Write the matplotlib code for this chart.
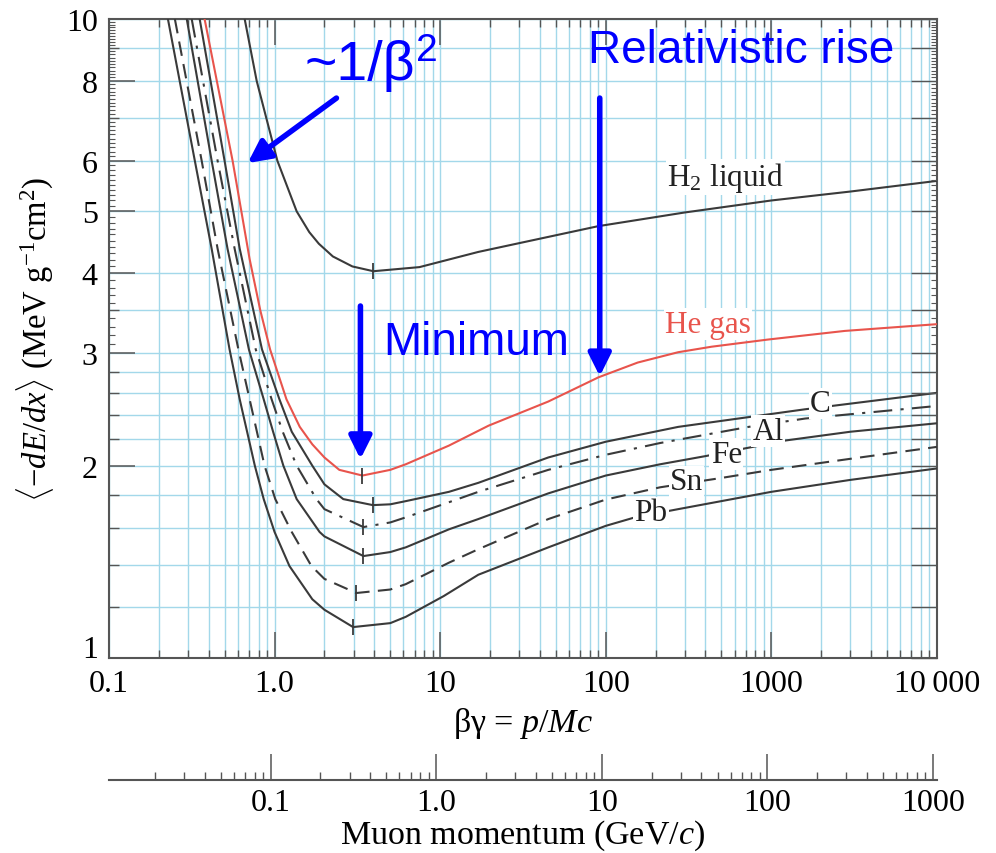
import numpy as np
import matplotlib
matplotlib.use("Agg")
import matplotlib.pyplot as plt
from matplotlib.ticker import FixedLocator, FixedFormatter, NullFormatter, LogLocator

plt.rcParams['font.family'] = ['Liberation Serif', 'DejaVu Serif']
plt.rcParams['mathtext.fontset'] = 'custom'
plt.rcParams['mathtext.rm'] = 'Liberation Serif'
plt.rcParams['mathtext.it'] = 'Liberation Serif:italic'

# ---- data: (beta*gamma, <-dE/dx>)
h2_bg = [0.66, 0.78, 1.04, 1.36, 1.62, 1.85, 2.25, 2.95, 3.95, 7.5, 17, 90, 300, 1000, 3000, 10000]
h2_de = [10.0, 8.0, 6.0, 5.0, 4.64, 4.45, 4.25, 4.10, 4.03, 4.09, 4.32, 4.74, 4.98, 5.2, 5.37, 5.58]

he_bg = [0.378, 0.558, 0.707, 0.82, 0.94, 1.18, 1.42, 1.69, 2.0, 2.46, 3.39, 5.0, 6.2, 11.3, 19.6, 45,
         90.5, 156, 274, 435, 950, 2780, 10000]
he_de = [10.0, 6.0, 4.21, 3.5, 3.04, 2.54, 2.30, 2.16, 2.06, 1.97, 1.93, 1.97, 2.01, 2.15, 2.31, 2.52,
         2.75, 2.90, 3.01, 3.07, 3.15, 3.25, 3.33]

c_bg = [0.353, 0.499, 0.616, 0.84, 1.07, 1.27, 1.69, 2.0, 2.6, 3.92, 5.0, 6.2, 11.3, 17, 45, 100, 274,
        1590, 10000]
c_de = [10.0, 6.0, 4.37, 3.04, 2.54, 2.26, 2.0, 1.87, 1.773, 1.735, 1.74, 1.76, 1.82, 1.88, 2.06, 2.18, 2.30,
        2.45, 2.60]

al_bg = [0.316, 0.453, 0.574, 0.77, 0.96, 1.12, 1.36, 1.79, 2.0, 3.44, 5.0, 6.2, 11.3, 17, 45, 100, 213,
         730, 1600, 10000]
al_de = [10.0, 6.0, 4.37, 3.04, 2.54, 2.26, 2.0, 1.773, 1.71, 1.603, 1.63, 1.66, 1.753, 1.82, 1.97, 2.08, 2.17,
         2.30, 2.37, 2.48]

fe_bg = [0.295, 0.417, 0.52, 0.70, 0.86, 0.98, 1.13, 1.36, 1.87, 2.0, 3.44, 5.0, 6.2, 11.3, 17, 45, 100, 213,
         400, 1220, 3000, 10000]
fe_de = [10.0, 6.0, 4.37, 3.04, 2.54, 2.26, 2.0, 1.773, 1.575, 1.55, 1.444, 1.465, 1.49, 1.59, 1.65, 1.81, 1.93,
         2.01, 2.07, 2.19, 2.26, 2.33]

sn_bg = [0.250, 0.363, 0.453, 0.605, 0.707, 0.87, 1.01, 1.27, 1.67, 2.0, 3.12, 5.0, 6.2, 11.3, 17, 45, 100,
         213, 478, 1000, 3000, 10000]
sn_de = [10.0, 6.0, 4.37, 3.04, 2.54, 2.0, 1.773, 1.575, 1.393, 1.33, 1.264, 1.28, 1.305, 1.41, 1.48, 1.65, 1.77,
         1.85, 1.91, 1.97, 2.05, 2.14]

pb_bg = [0.227, 0.330, 0.417, 0.535, 0.616, 0.76, 0.86, 1.0, 1.23, 1.69, 2.0, 2.98, 5.0, 6.2, 10.5, 17, 45,
         100, 150, 274, 1000, 3000, 10000]
pb_de = [10.0, 6.0, 4.37, 3.04, 2.54, 2.0, 1.773, 1.575, 1.393, 1.236, 1.19, 1.118, 1.134, 1.16, 1.25, 1.35, 1.49,
         1.61, 1.66, 1.71, 1.82, 1.90, 1.98]

# minima markers (beta*gamma, dE/dx)
min_bg = [3.95, 3.39, 3.92, 3.44, 3.44, 3.12, 2.98]
min_de = [4.03, 1.93, 1.735, 1.603, 1.444, 1.264, 1.118]

x_ticks = [0.1, 1, 10, 100, 1000, 10000]
x_labels = ['0.1', '1.0', '10', '100', '1000', '10\u2009000']
y_ticks = [1, 2, 3, 4, 5, 6, 8, 10]
y_labels = ['', '2', '3', '4', '5', '6', '8', '10']   # '1' is placed by hand below
y_grid = [1.2, 1.4, 1.6, 1.8, 2.2, 2.4, 2.6, 2.8, 3.5, 7, 9]
mu_mass = 0.10566
mu_ticks = [0.1, 1, 10, 100, 1000]
mu_labels = ['0.1', '1.0', '10', '100', '1000']

dark = '#3a3a3a'
red = '#e8544c'
grid_col = '#a3d8ea'
blue = '#0000ff'
tick_fs = 23

fig = plt.figure(figsize=(9.96, 8.54), dpi=100)
ax = fig.add_axes([0.1094, 0.2283, 0.8313, 0.7483])
ax.set_xscale('log')
ax.set_yscale('log')
ax.set_xlim(0.1, 10000)
ax.set_ylim(1, 10)

# grid
ax.xaxis.set_major_locator(FixedLocator(x_ticks))
ax.xaxis.set_major_formatter(FixedFormatter(x_labels))
ax.xaxis.set_minor_locator(LogLocator(base=10, subs=np.arange(2, 10)))
ax.xaxis.set_minor_formatter(NullFormatter())
ax.yaxis.set_major_locator(FixedLocator(y_ticks))
ax.yaxis.set_major_formatter(FixedFormatter(y_labels))
ax.yaxis.set_minor_locator(FixedLocator(y_grid))
ax.yaxis.set_minor_formatter(NullFormatter())
ax.grid(True, which='both', color=grid_col, lw=1.0, zorder=0)
ax.set_axisbelow(True)

ax.tick_params(axis='x', which='major', direction='in', length=19, width=1.1, color='#555555',
               top=True, bottom=True, labelsize=tick_fs, pad=8)
ax.tick_params(axis='x', which='minor', direction='in', length=6, width=1.0, color='#555555',
               top=True, bottom=True)
ax.tick_params(axis='y', which='major', direction='in', length=19, width=1.1, color='#555555',
               left=True, right=False, labelsize=tick_fs, pad=8)
ax.tick_params(axis='y', which='minor', direction='in', length=7, width=1.0, color='#555555',
               left=True, right=False)
for s in ax.spines.values():
    s.set_color('#555555')
    s.set_linewidth(1.5)
ax.annotate(y_labels[0] or '1', xy=(0.1, 1.0), xytext=(-8, 6), textcoords='offset points',
            ha='right', va='center', fontsize=tick_fs)

# extra tick set: long ticks on the right, fine ticks both sides
ax_r = ax.twinx()
ax_r.set_yscale('log')
ax_r.set_ylim(1, 10)
ax_r.yaxis.set_major_locator(FixedLocator(sorted(y_ticks + y_grid)))
ax_r.yaxis.set_major_formatter(NullFormatter())
fine = [v for v in np.round(np.arange(3.1, 10.0, 0.1), 1) if v not in y_ticks + y_grid]
ax_r.yaxis.set_minor_locator(FixedLocator(fine))
ax_r.yaxis.set_minor_formatter(NullFormatter())
ax_r.tick_params(axis='y', which='major', direction='in', length=19, width=1.0, color='#555555',
                 left=False, right=True)
ax_r.tick_params(axis='y', which='minor', direction='in', length=4, width=0.8, color='#555555',
                 left=True, right=True)
for s in ax_r.spines.values():
    s.set_visible(False)

# curves
ax.plot(h2_bg, h2_de, color=dark, lw=1.5, zorder=3)
ax.plot(he_bg, he_de, color=red, lw=1.5, zorder=3)
ax.plot(c_bg, c_de, color=dark, lw=1.5, zorder=3)
ax.plot(al_bg, al_de, color=dark, lw=1.5, dashes=(9, 4, 1.5, 4), zorder=3)
ax.plot(fe_bg, fe_de, color=dark, lw=1.5, zorder=3)
ax.plot(sn_bg, sn_de, color=dark, lw=1.5, dashes=(7, 4), zorder=3)
ax.plot(pb_bg, pb_de, color=dark, lw=1.5, zorder=3)
ax.plot(min_bg, min_de, ls='none', marker='|', ms=12, mew=1.3, color=dark, zorder=4)

lbl = dict(fontsize=22.5, ha='center', va='center', zorder=5,
           bbox=dict(facecolor='white', edgecolor='none', pad=1.0))
ax.text(530, 5.66, 'H$_2$ liquid', color='#222222', **lbl)
ax.text(415, 3.33, 'He gas', color=red, **lbl)
ax.text(1973, 2.50, 'C', color='#222222', **lbl)
ax.text(956, 2.265, 'Al', color='#222222', **lbl)
ax.text(535, 2.085, 'Fe', color='#222222', **lbl)
ax.text(307, 1.886, 'Sn', color='#222222', **lbl)
ax.text(187, 1.69, 'Pb', color='#222222', **lbl)

ax.set_xlabel(r'βγ = $p/Mc$', fontsize=24.5, labelpad=5)
ax.set_ylabel(r'$\langle{-}dE/dx\rangle$ (MeV g$^{-1}$cm$^2$)', fontsize=23.5, labelpad=7)

# blue annotations
arr = dict(arrowstyle='-|>', color=blue, lw=4, mutation_scale=34, shrinkA=0, shrinkB=0)
ax.annotate('', xy=(0.688, 5.95), xytext=(2.364, 7.52), arrowprops=arr, zorder=6)
ax.annotate('', xy=(92.0, 2.76), xytext=(92.0, 7.52), arrowprops=arr, zorder=6)
ax.annotate('', xy=(3.30, 2.048), xytext=(3.30, 3.555), arrowprops=arr, zorder=6)
beta = ax.text(1.51, 8.06, '~1/β', family='Liberation Sans', fontsize=40, color=blue,
               ha='left', va='baseline', zorder=6)
ax.annotate('2', xy=(1.0, 1.0), xycoords=beta, xytext=(1, 5), textcoords='offset points',
            family='Liberation Sans', fontsize=28, color=blue, ha='left', va='top', zorder=6)
ax.text(659, 8.57, 'Relativistic rise', family='Liberation Sans', fontsize=33, color=blue,
        ha='center', va='baseline', zorder=6)
ax.text(16.5, 2.99, 'Minimum', family='Liberation Sans', fontsize=33, color=blue,
        ha='center', va='baseline', zorder=6)

# muon momentum axis
axm = fig.add_axes([0.1094, 0.0855, 0.8313, 0.0005])
axm.set_xscale('log')
axm.set_xlim(0.1 * mu_mass, 10000 * mu_mass)
axm.patch.set_visible(False)
for k in ['top', 'left', 'right']:
    axm.spines[k].set_visible(False)
axm.spines['bottom'].set_color('#555555')
axm.spines['bottom'].set_linewidth(1.5)
axm.set_yticks([])
axm.xaxis.set_major_locator(FixedLocator(mu_ticks))
axm.xaxis.set_major_formatter(FixedFormatter(mu_labels))
axm.xaxis.set_minor_locator(LogLocator(base=10, subs=np.arange(2, 10)))
axm.xaxis.set_minor_formatter(NullFormatter())
axm.tick_params(axis='x', which='major', direction='in', length=19, width=1.1, color='#555555',
                labelsize=tick_fs, pad=6)
axm.tick_params(axis='x', which='minor', direction='in', length=6, width=1.0, color='#555555')
axm.set_xlabel(r'Muon momentum (GeV/$c$)', fontsize=24.5, labelpad=0)

fig.savefig('out.png', dpi=100)
